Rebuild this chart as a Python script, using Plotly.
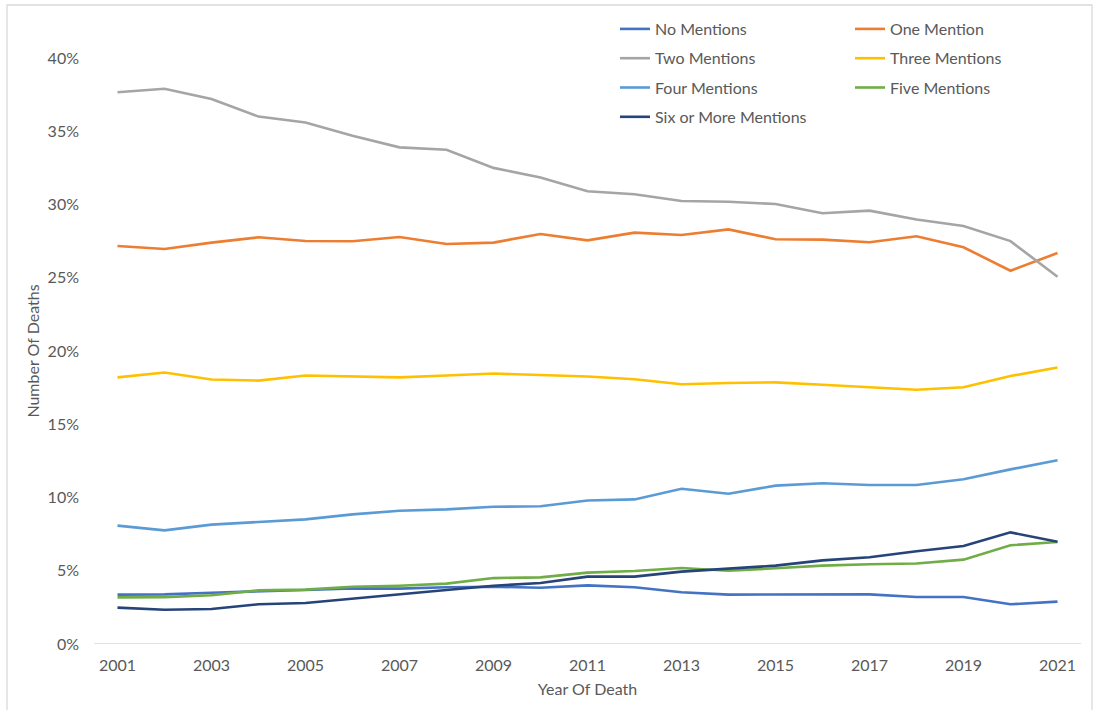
import plotly.graph_objects as go

years = list(range(2001, 2022))

no_mentions = [3.37, 3.39, 3.50, 3.62, 3.69, 3.80, 3.78, 3.87, 3.91, 3.84, 4.00, 3.87, 3.53, 3.37, 3.37, 3.42, 3.39, 3.21, 3.21, 2.71, 2.89]
one_mention = [27.17, 26.96, 27.40, 27.76, 27.51, 27.49, 27.78, 27.30, 27.40, 27.99, 27.55, 28.08, 27.92, 28.30, 27.63, 27.60, 27.42, 27.83, 27.08, 25.48, 26.69]
two_mentions = [37.66, 37.90, 37.20, 36.00, 35.60, 34.70, 33.90, 33.74, 32.50, 31.85, 30.90, 30.70, 30.24, 30.19, 30.03, 29.40, 29.58, 28.97, 28.53, 27.50, 25.07]
three_mentions = [18.20, 18.53, 18.05, 17.98, 18.33, 18.27, 18.20, 18.33, 18.46, 18.36, 18.26, 18.07, 17.73, 17.82, 17.86, 17.70, 17.54, 17.36, 17.52, 18.29, 18.87]
four_mentions = [8.08, 7.76, 8.15, 8.35, 8.51, 8.85, 9.10, 9.19, 9.37, 9.40, 9.80, 9.87, 10.60, 10.26, 10.81, 10.97, 10.85, 10.85, 11.24, 11.92, 12.54]
five_mentions = [3.18, 3.20, 3.33, 3.66, 3.71, 3.91, 3.98, 4.12, 4.50, 4.55, 4.87, 4.98, 5.19, 5.00, 5.17, 5.35, 5.44, 5.49, 5.76, 6.74, 6.96]
six_plus = [2.48, 2.34, 2.39, 2.71, 2.80, 3.10, 3.44, 3.69, 3.98, 4.16, 4.60, 4.60, 4.94, 5.17, 5.35, 5.71, 5.92, 6.33, 6.69, 7.62, 6.98]

series_names = ["No Mentions", "One Mention", "Two Mentions", "Three Mentions",
                "Four Mentions", "Five Mentions", "Six or More Mentions"]
series_values = [no_mentions, one_mention, two_mentions, three_mentions,
                 four_mentions, five_mentions, six_plus]
colors = ["#4472C4", "#ED7D31", "#A5A5A5", "#FFC000", "#5B9BD5", "#70AD47", "#264478"]
legend_ids = ["legend", "legend2", "legend", "legend2", "legend", "legend2", "legend"]

y_ticks = [0, 5, 10, 15, 20, 25, 30, 35, 40]
x_ticks = list(range(2001, 2022, 2))

FONT = "Lato, Open Sans, Arial, sans-serif"
GRAY = "#595959"
FS = 16

fig = go.Figure()
for name, vals, col, lg in zip(series_names, series_values, colors, legend_ids):
    fig.add_trace(go.Scatter(
        x=years, y=[v / 100 for v in vals], mode="lines", name=name,
        line=dict(color=col, width=2.6), legend=lg, legendgroup=name,
    ))

W, H = 1097, 710
L, R, T, B = 94, 16, 58, 66
pw = W - L - R
ph = H - T - B


def px_x(p):
    return (p - L) / pw


def px_y(p):
    return (H - B - p) / ph


legend_common = dict(
    font=dict(family=FONT, size=FS, color=GRAY),
    bgcolor="rgba(0,0,0,0)", borderwidth=0,
    tracegroupgap=5.5, itemwidth=30,
    xanchor="left", yanchor="top", orientation="v",
)

fig.update_layout(
    width=W, height=H,
    margin=dict(l=L, r=R, t=T, b=B),
    paper_bgcolor="white", plot_bgcolor="white",
    font=dict(family=FONT, size=FS, color=GRAY),
    showlegend=True,
    legend=dict(x=px_x(615), y=px_y(12), **legend_common),
    legend2=dict(x=px_x(850), y=px_y(12), **legend_common),
    xaxis=dict(
        range=[2000.5, 2021.5], tickmode="array", tickvals=x_ticks,
        ticktext=[str(t) for t in x_ticks], showgrid=False, zeroline=False,
        showline=False, ticks="", ticklabelstandoff=10,
        tickfont=dict(family=FONT, size=FS, color=GRAY),
        title=dict(text="Year Of Death", font=dict(family=FONT, size=FS, color=GRAY), standoff=10),
        fixedrange=True,
    ),
    yaxis=dict(
        range=[0, 0.4], tickmode="array", tickvals=[t / 100 for t in y_ticks],
        ticktext=[f"{t}%" for t in y_ticks], showgrid=False, zeroline=False,
        showline=False, ticks="", ticklabelstandoff=14,
        tickfont=dict(family=FONT, size=FS, color=GRAY),
        title=dict(text="Number Of Deaths", font=dict(family=FONT, size=FS, color=GRAY), standoff=4),
        fixedrange=True,
    ),
    shapes=[
        dict(type="line", xref="paper", yref="y", x0=0, x1=1, y0=0, y1=0,
             line=dict(color="#D9D9D9", width=1.3), layer="below"),
        dict(type="rect", xref="paper", yref="paper",
             x0=px_x(7), x1=px_x(1092), y0=px_y(5), y1=px_y(716),
             line=dict(color="#D9D9D9", width=1.3), fillcolor="rgba(0,0,0,0)", layer="below"),
    ],
)

fig.write_html("out.html", config={"displayModeBar": False},
               post_script="document.body.style.margin='0';")
